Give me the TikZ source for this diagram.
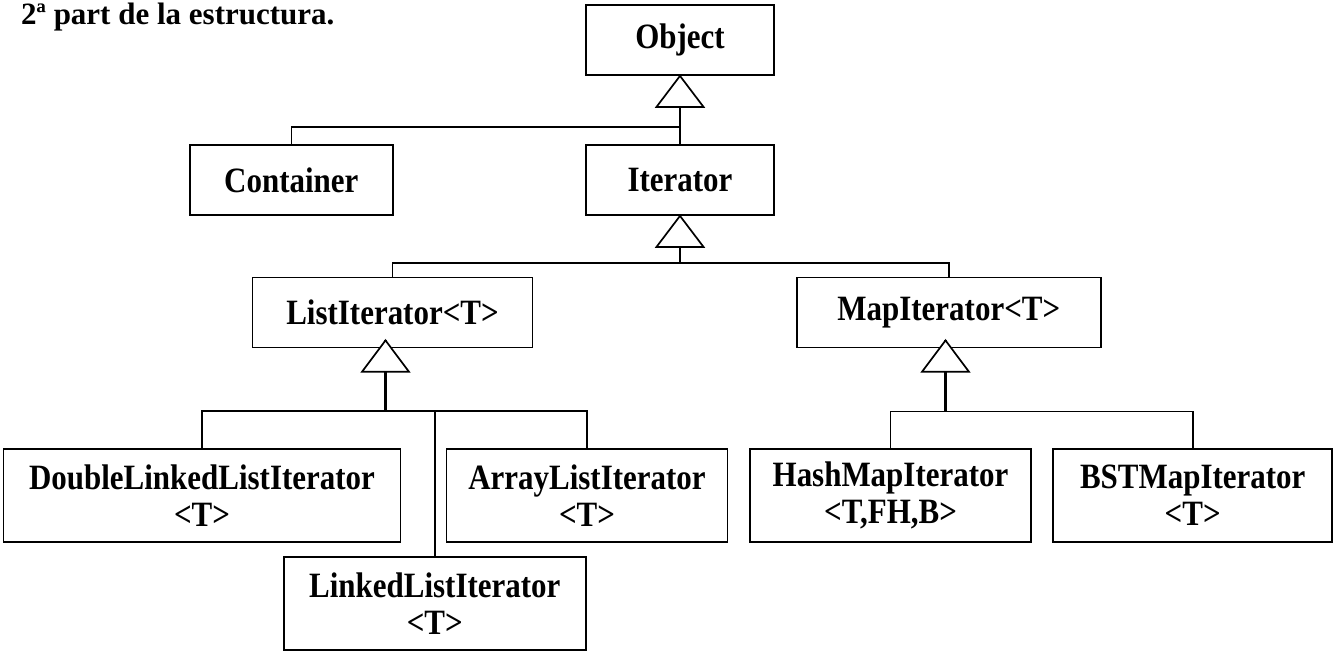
\documentclass[tikz,border=0pt]{standalone}
\usepackage{fontspec}
\setmainfont[FakeStretch=0.87]{Liberation Serif}
\newfontfamily\headfont{Liberation Serif}
\usetikzlibrary{calc}
\begin{document}
\begin{tikzpicture}[x=1pt,y=-1pt,
  txt/.style={font=\fontsize{35.6}{37}\selectfont\bfseries},
  cls/.style={txt, draw, line width=1.8pt, inner sep=0pt, align=center},
  row/.style={cls, minimum height=70pt},
  pair/.style={cls, minimum height=93pt},
  link/.style={line width=1.6pt},
  stem/.style={line width=2.3pt},
  gen/.style={draw, line width=1.7pt, fill=white, line join=miter}]
\useasboundingbox (0,0) rectangle (1334,651);

% heading
\node[font=\headfont\fontsize{31}{37}\selectfont\bfseries, anchor=base west, inner sep=0pt] (title) at (21,24) {2ª part de la estructura.};

% classes
\node[row, minimum width=188pt] (object)    at (680,40)    {Object};
\node[row, minimum width=203pt] (container) at (291.3,180.3) {Container};
\node[row, minimum width=188pt] (iterator)  at (680,180)   {Iterator};
\node[row, minimum width=280pt] (listit)    at (392.5,312.5) {ListIterator<T>};
\node[row, minimum width=304pt] (mapit)     at (948.8,312.5) {MapIterator<T>};
\node[pair, minimum width=397pt] (dll)  at (202,495.3)   {DoubleLinkedListIterator\\<T>};
\node[pair, minimum width=281pt] (arr)  at (587,495.5)   {ArrayListIterator\\<T>};
\node[pair, minimum width=302pt] (lli)  at (434.8,603.3) {LinkedListIterator\\<T>};
\node[pair, minimum width=281pt] (hash) at (890.5,495.5) {HashMapIterator\\<T,FH,B>};
\node[pair, minimum width=279pt] (bst)  at (1192.7,495.5) {BSTMapIterator\\<T>};

% Object <- Container, Iterator
\draw[link] (object.south) -- (iterator.north);
\draw[link] (container.north) |- ($(object.south)+(0,51)$);
\draw[gen] (object.south) -- ++(-23.5,31) -- ++(47,0) -- cycle;

% Iterator <- ListIterator, MapIterator
\draw[stem] (iterator.south) -- ++(0,47) coordinate (bar2);
\draw[link] (listit.north) |- (bar2) -| (mapit.north);
\draw[gen] (iterator.south) -- ++(-23.5,31) -- ++(47,0) -- cycle;

% ListIterator <- DoubleLinked, Linked, ArrayList
\coordinate (listTip) at ($(listit.south)+(-7,-8)$);
\draw[stem] (listTip) -- ++(0,70.7) coordinate (bar3);
\draw[link] (dll.north) |- (bar3) -| (arr.north);
\draw[link] (bar3) -| (lli.north);
\draw[stem] (bar3) -- (bar3 -| lli.north);
\draw[gen] (listTip) -- ++(-23.5,31.4) -- ++(47,0) -- cycle;

% MapIterator <- HashMap, BSTMap
\coordinate (mapTip) at ($(mapit.south)+(-3.3,-8)$);
\draw[stem] (mapTip) -- ++(0,71) coordinate (bar4);
\draw[link] (hash.north) |- (bar4) -| (bst.north);
\draw[gen] (mapTip) -- ++(-23.5,31.4) -- ++(47,0) -- cycle;
\end{tikzpicture}
\end{document}
